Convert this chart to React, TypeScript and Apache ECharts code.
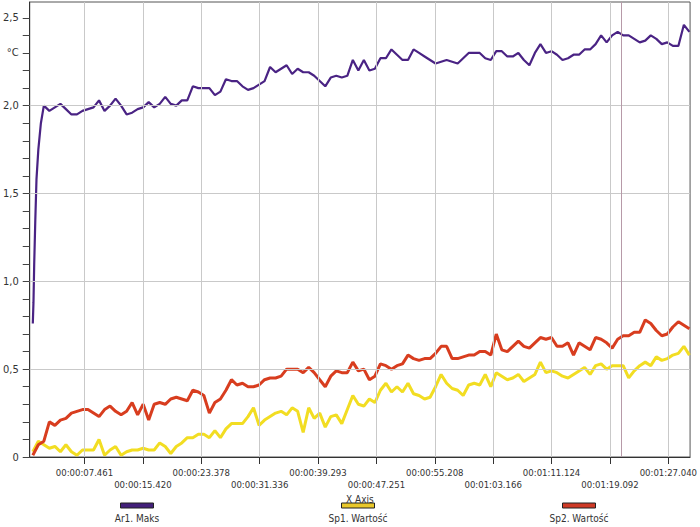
import React, { useEffect, useRef } from "react";
import * as echarts from "echarts";

// Sampling of the recorded series (seconds)
const T0 = 0.42;
const DT = 0.752;

const purpleVals = [
  0.76, 1.75, 2.0, 1.97, 1.99, 2.01, 1.98, 1.95, 1.95, 1.97,
  1.98, 1.99, 2.03, 1.97, 2.0, 2.04, 2.0, 1.95, 1.96, 1.98,
  1.99, 2.02, 1.99, 2.01, 2.05, 2.01, 2.0, 2.03, 2.03, 2.11,
  2.1, 2.1, 2.1, 2.06, 2.08, 2.15, 2.14, 2.14, 2.11, 2.09,
  2.1, 2.12, 2.14, 2.22, 2.19, 2.21, 2.23, 2.18, 2.21, 2.19,
  2.19, 2.17, 2.14, 2.11, 2.16, 2.17, 2.16, 2.17, 2.26, 2.2,
  2.26, 2.2, 2.21, 2.27, 2.27, 2.32, 2.29, 2.26, 2.26, 2.32,
  2.3, 2.28, 2.26, 2.24, 2.25, 2.26, 2.25, 2.24, 2.27, 2.3,
  2.3, 2.3, 2.27, 2.26, 2.31, 2.31, 2.28, 2.28, 2.3, 2.26,
  2.23, 2.3, 2.35, 2.3, 2.31, 2.29, 2.26, 2.27, 2.29, 2.29,
  2.32, 2.32, 2.35, 2.4, 2.36, 2.4, 2.42, 2.4, 2.4, 2.38,
  2.36, 2.37, 2.4, 2.38, 2.35, 2.36, 2.34, 2.34, 2.46, 2.42,
];
const purpleRiseTimes = [0.51, 0.61, 0.76, 0.92, 1.52];
const purpleRiseVals = [0.88, 1.1, 1.35, 1.58, 1.9];

const yellowVals = [
  0.03, 0.09, 0.07, 0.05, 0.06, 0.03, 0.07, 0.03, 0.01, 0.04,
  0.04, 0.04, 0.1, 0.01, 0.04, 0.06, 0.01, 0.03, 0.04, 0.04,
  0.05, 0.04, 0.04, 0.08, 0.06, 0.02, 0.06, 0.08, 0.11, 0.11,
  0.13, 0.13, 0.11, 0.15, 0.11, 0.16, 0.19, 0.19, 0.19, 0.23,
  0.28, 0.18, 0.21, 0.23, 0.25, 0.26, 0.24, 0.28, 0.26, 0.14,
  0.28, 0.22, 0.25, 0.17, 0.23, 0.24, 0.19, 0.27, 0.35, 0.3,
  0.29, 0.33, 0.31, 0.38, 0.42, 0.37, 0.4, 0.37, 0.42, 0.36,
  0.35, 0.33, 0.34, 0.4, 0.47, 0.42, 0.39, 0.38, 0.35, 0.41,
  0.42, 0.41, 0.47, 0.4, 0.48, 0.46, 0.44, 0.45, 0.47, 0.43,
  0.45, 0.47, 0.54, 0.48, 0.49, 0.48, 0.46, 0.45, 0.47, 0.49,
  0.51, 0.47, 0.52, 0.53, 0.5, 0.52, 0.52, 0.52, 0.45, 0.49,
  0.52, 0.54, 0.52, 0.57, 0.55, 0.56, 0.58, 0.59, 0.63, 0.58,
];

const redVals = [
  0.01, 0.07, 0.09, 0.2, 0.18, 0.21, 0.22, 0.25, 0.26, 0.27,
  0.27, 0.25, 0.23, 0.27, 0.29, 0.26, 0.24, 0.26, 0.31, 0.24,
  0.3, 0.21, 0.3, 0.31, 0.3, 0.33, 0.34, 0.33, 0.32, 0.38,
  0.37, 0.35, 0.25, 0.31, 0.33, 0.38, 0.44, 0.41, 0.42, 0.4,
  0.4, 0.41, 0.44, 0.45, 0.45, 0.46, 0.5, 0.5, 0.5, 0.48,
  0.51, 0.48, 0.44, 0.4, 0.46, 0.49, 0.48, 0.48, 0.54, 0.49,
  0.5, 0.44, 0.46, 0.53, 0.52, 0.5, 0.52, 0.53, 0.58, 0.56,
  0.55, 0.56, 0.56, 0.59, 0.63, 0.63, 0.56, 0.56, 0.57, 0.58,
  0.58, 0.6, 0.6, 0.58, 0.7, 0.61, 0.6, 0.63, 0.66, 0.63,
  0.62, 0.65, 0.68, 0.67, 0.68, 0.63, 0.63, 0.65, 0.58, 0.65,
  0.63, 0.61, 0.68, 0.67, 0.65, 0.62, 0.67, 0.69, 0.69, 0.71,
  0.71, 0.78, 0.76, 0.72, 0.69, 0.7, 0.74, 0.77, 0.75, 0.73,
];

const xTickLabels = [
  "00:00:07.461", "00:00:15.420", "00:00:23.378", "00:00:31.336",
  "00:00:39.293", "00:00:47.251", "00:00:55.208", "00:01:03.166",
  "00:01:11.124", "00:01:19.092", "00:01:27.040",
];
const yLabelValues = [0, 0.5, 1, 1.5, 2, 2.5];
const unitLabel = "°C";
const unitValue = 2.3;
const gridYValues = [0.5, 1, 1.5, 2];
const cursorTime = 80.65;
const xMax = 90;
const yMax = 2.59;

const seriesNames = ["Ar1. Maks", "Sp1. Wartość", "Sp2. Wartość"];
const colors = ["#4a2384", "#f2dd22", "#d83d1f"];
const swatchColors = ["#43207a", "#e9c82a", "#cf3a26"];
const xAxisName = "X Axis";

const FONT = '"Liberation Sans Narrow", "DejaVu Sans Condensed", "Liberation Sans", sans-serif';

function parseTime(s: string): number {
  const [h, m, sec] = s.split(":");
  return Number(h) * 3600 + Number(m) * 60 + parseFloat(sec);
}
const xTickTimes = xTickLabels.map(parseTime);

export default function App() {
  const ref = useRef<HTMLDivElement>(null);
  useEffect(() => {
    if (!ref.current) return;
    const chart = echarts.init(ref.current, undefined, { renderer: "svg" });
    const times = purpleVals.map((_, i) => T0 + i * DT);
    const purpleData = [
      ...times.map((t, i) => [t, purpleVals[i]]),
      ...purpleRiseTimes.map((t, i) => [t, purpleRiseVals[i]]),
    ].sort((a, b) => a[0] - b[0]);
    const yellowData = times.map((t, i) => [t, yellowVals[i]]);
    const redData = times.map((t, i) => [t, redVals[i]]);
    const minorTicks = Array.from({ length: 26 }, (_, i) => i / 10);

    const legendCenters = [137, 358, 579];
    const graphic: any[] = [];
    seriesNames.forEach((n, i) => {
      const cx = legendCenters[i];
      graphic.push({
        type: "rect",
        shape: { x: cx - 16.5, y: 503, width: 33, height: 5 },
        style: { fill: swatchColors[i], stroke: "#222", lineWidth: 1 },
      });
      graphic.push({
        type: "text",
        x: cx,
        y: 518,
        style: {
          text: n,
          fill: "#333",
          fontSize: 10,
          fontFamily: FONT,
          align: "center",
          verticalAlign: "middle",
        },
      });
    });

    chart.setOption({
      animation: false,
      backgroundColor: "#ffffff",
      grid: {
        left: 28,
        right: 8,
        top: 2,
        bottom: 70,
        show: true,
        borderColor: "#555",
        borderWidth: 1,
      },
      xAxis: {
        type: "value",
        min: 0,
        max: xMax,
        name: xAxisName,
        nameLocation: "middle",
        nameGap: 25,
        nameTextStyle: { color: "#333", fontSize: 10, fontFamily: FONT },
        axisLine: { show: true, lineStyle: { color: "#333" } },
        axisTick: {
          show: true,
          customValues: xTickTimes,
          length: 7,
          lineStyle: { color: "#333" },
        },
        axisLabel: {
          customValues: xTickTimes,
          showMinLabel: true,
          showMaxLabel: true,
          hideOverlap: false,
          margin: 9,
          color: "#333",
          fontSize: 9.5,
          lineHeight: 12,
          fontFamily: FONT,
          formatter: (v: number) => {
            let idx = 0;
            let best = Infinity;
            xTickTimes.forEach((t, i) => {
              const d = Math.abs(t - v);
              if (d < best) {
                best = d;
                idx = i;
              }
            });
            return idx % 2 === 0 ? xTickLabels[idx] : "\n" + xTickLabels[idx];
          },
        },
        splitLine: { show: false },
      },
      yAxis: {
        type: "value",
        min: 0,
        max: yMax,
        axisLine: { show: true, lineStyle: { color: "#333" } },
        axisTick: {
          show: true,
          customValues: minorTicks,
          length: 7,
          lineStyle: { color: "#444" },
        },
        axisLabel: {
          customValues: [...yLabelValues, unitValue],
          showMinLabel: true,
          showMaxLabel: true,
          margin: 11,
          color: "#333",
          fontSize: 11,
          fontFamily: FONT,
          formatter: (v: number) => {
            if (Math.abs(v - unitValue) < 1e-6) return unitLabel;
            if (v === 0) return "0";
            return v.toFixed(1).replace(".", ",");
          },
        },
        splitLine: { show: false },
      },
      graphic,
      series: [
        {
          type: "line",
          data: [],
          z: 1,
          silent: true,
          markLine: {
            silent: true,
            symbol: "none",
            label: { show: false },
            emphasis: { disabled: true },
            lineStyle: { color: "#c9c9c9", width: 1, type: "solid" },
            data: [
              ...xTickTimes.map((t) => ({ xAxis: t })),
              ...gridYValues.map((v) => ({ yAxis: v })),
              { xAxis: cursorTime, lineStyle: { color: "#b79aa8", width: 1 } },
            ],
          },
        },
        {
          name: seriesNames[0],
          type: "line",
          data: purpleData,
          z: 3,
          showSymbol: false,
          symbol: "none",
          lineStyle: { color: colors[0], width: 2.2 },
          itemStyle: { color: colors[0] },
        },
        {
          name: seriesNames[1],
          type: "line",
          data: yellowData,
          z: 2,
          showSymbol: false,
          symbol: "none",
          lineStyle: { color: colors[1], width: 3 },
          itemStyle: { color: colors[1] },
        },
        {
          name: seriesNames[2],
          type: "line",
          data: redData,
          z: 2,
          showSymbol: false,
          symbol: "none",
          lineStyle: { color: colors[2], width: 3 },
          itemStyle: { color: colors[2] },
        },
      ],
    });
    return () => chart.dispose();
  }, []);
  return (
    <div
      ref={ref}
      style={{ position: "fixed", left: 0, top: 0, width: 700, height: 527 }}
    />
  );
}
